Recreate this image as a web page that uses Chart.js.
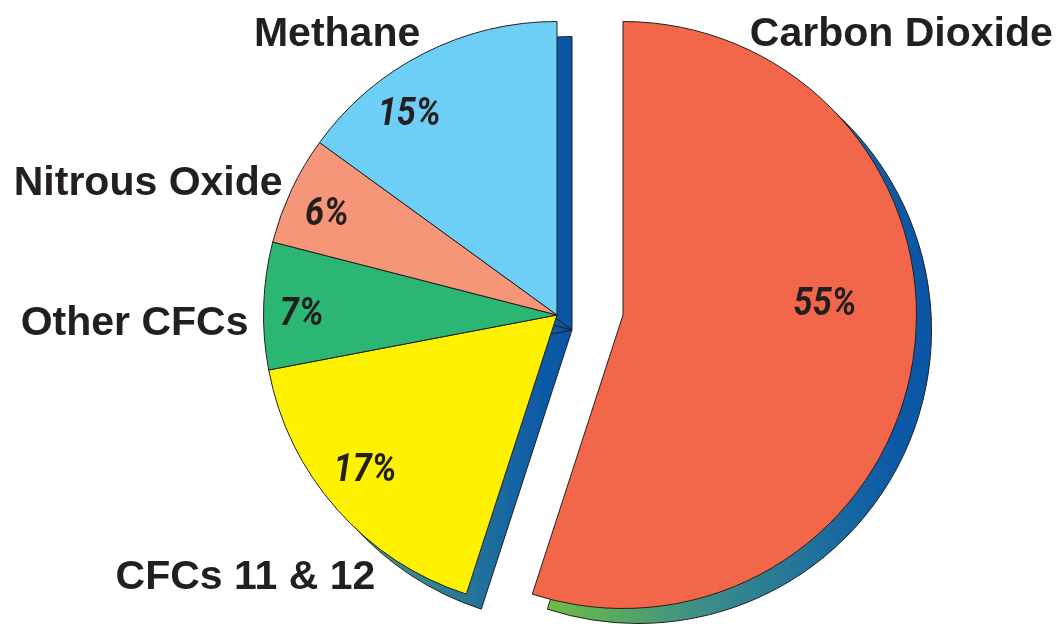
<!DOCTYPE html>
<html>
<head>
<meta charset="utf-8">
<script src="https://cdn.jsdelivr.net/npm/chart.js@4/dist/chart.umd.min.js"></script>
<style>
  html, body { margin: 0; padding: 0; background: #ffffff; }
  #wrap { width: 1061px; height: 624px; }
</style>
</head>
<body>
<div id="wrap"><canvas id="chart" width="1061" height="624"></canvas></div>
<script>
// Share of each greenhouse gas, clockwise from 12 o'clock
const gases = ['Carbon Dioxide', 'CFCs 11 & 12', 'Other CFCs', 'Nitrous Oxide', 'Methane'];
const shares = [55, 17, 7, 6, 15];

// Slice fills
const sliceColors = ['#f26649', '#fff200', '#2bb673', '#f69679', '#6dcff6'];

// Horizontal pull-apart of each slice (px): CO2 moves right, the rest left
const sliceShift = [33, -33, -33, -33, -33];
// Which pulled-apart piece each slice belongs to (for the shared side face)
const sliceGroup = [0, 1, 1, 1, 1];

// Percentage label placement: angle nudge (deg, clockwise) and radius fraction
const pctNudge = [-13, 3, -1, -1, -9];
const pctRadius = [0.69, 0.835, 0.87, 0.86, 0.857];

// Name label anchors relative to the slice apex, in units of the radius
const nameOffset = [[0.432, -0.915], [-0.619, 0.935], [-1.051, 0.068], [-0.935, -0.408], [-0.466, -0.915]];
const nameAlign = ['left', 'right', 'right', 'right', 'right'];

const SIDE_DEPTH = 15;
const EDGE = '#231f20';

// Splits the pie into two pieces after Chart.js has laid out the arcs
const splitPlugin = {
  id: 'split',
  afterDatasetsUpdate(chart) {
    chart.getDatasetMeta(0).data.forEach((arc, i) => { arc.x += sliceShift[i]; });
  }
};

// Side face: a copy of each piece pushed down-right, filled with a green-to-blue ramp
const sidePlugin = {
  id: 'side',
  beforeDatasetsDraw(chart) {
    const ctx = chart.ctx;
    const arcs = chart.getDatasetMeta(0).data;
    const groups = [...new Set(sliceGroup)];
    groups.forEach(g => {
      const members = arcs.filter((a, i) => sliceGroup[i] === g);
      let minX = Infinity, maxX = -Infinity;
      members.forEach(a => {
        const p = a.getProps(['x', 'y', 'startAngle', 'endAngle', 'outerRadius'], true);
        minX = Math.min(minX, p.x); maxX = Math.max(maxX, p.x);
        for (let k = 0; k <= 40; k++) {
          const t = p.startAngle + (p.endAngle - p.startAngle) * k / 40;
          const px = p.x + Math.cos(t) * p.outerRadius;
          minX = Math.min(minX, px); maxX = Math.max(maxX, px);
        }
      });
      minX += SIDE_DEPTH; maxX += SIDE_DEPTH;
      const grad = ctx.createLinearGradient(minX, 0, maxX, 0);
      grad.addColorStop(0, '#6cbe45');
      grad.addColorStop(0.4, '#3d8e86');
      grad.addColorStop(0.65, '#25759a');
      grad.addColorStop(0.9, '#0c5aa7');
      grad.addColorStop(1, '#0a55a5');
      ctx.save();
      ctx.fillStyle = grad;
      ctx.strokeStyle = EDGE;
      ctx.lineWidth = 1;
      ctx.lineJoin = 'round';
      members.forEach(a => {
        const p = a.getProps(['x', 'y', 'startAngle', 'endAngle', 'outerRadius'], true);
        const cx = p.x + SIDE_DEPTH, cy = p.y + SIDE_DEPTH;
        ctx.beginPath();
        ctx.moveTo(cx, cy);
        ctx.arc(cx, cy, p.outerRadius, p.startAngle, p.endAngle);
        ctx.closePath();
        ctx.fill();
        ctx.stroke();
      });
      ctx.restore();
    });
  }
};

// Percentages inside the slices and gas names around the pie
const labelPlugin = {
  id: 'labels',
  afterDatasetsDraw(chart) {
    const ctx = chart.ctx;
    const arcs = chart.getDatasetMeta(0).data;
    ctx.save();
    ctx.fillStyle = EDGE;
    arcs.forEach((a, i) => {
      const p = a.getProps(['x', 'y', 'startAngle', 'endAngle', 'outerRadius'], true);
      const mid = (p.startAngle + p.endAngle) / 2 + pctNudge[i] * Math.PI / 180;
      const rr = p.outerRadius * pctRadius[i];
      const tx = p.x + Math.cos(mid) * rr, ty = p.y + Math.sin(mid) * rr;
      // narrow italic figures
      ctx.save();
      ctx.translate(tx, ty);
      ctx.scale(0.88, 1);
      ctx.font = 'italic bold 39px Roboto, "DejaVu Sans Condensed", sans-serif';
      ctx.textAlign = 'center';
      ctx.textBaseline = 'middle';
      ctx.fillText(shares[i] + '%', 0, 4);
      ctx.restore();

      ctx.font = 'bold 41px "Liberation Sans", Arial, sans-serif';
      ctx.textAlign = nameAlign[i];
      ctx.textBaseline = 'alphabetic';
      ctx.fillText(gases[i], p.x + nameOffset[i][0] * p.outerRadius, p.y + nameOffset[i][1] * p.outerRadius);
    });
    ctx.restore();
  }
};

new Chart(document.getElementById('chart'), {
  type: 'pie',
  data: {
    labels: gases,
    datasets: [{
      data: shares,
      backgroundColor: sliceColors,
      borderColor: EDGE,
      borderWidth: 1
    }]
  },
  options: {
    responsive: false,
    animation: false,
    events: [],
    layout: { padding: { left: 296, right: 177, top: 21, bottom: 15 } },
    plugins: {
      legend: { display: false },
      tooltip: { enabled: false }
    }
  },
  plugins: [splitPlugin, sidePlugin, labelPlugin]
});
</script>
</body>
</html>
